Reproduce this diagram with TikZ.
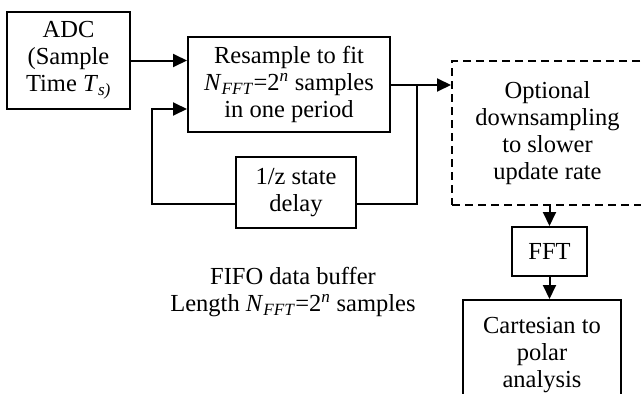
\documentclass[tikz,border=0pt]{standalone}
\usepackage{fontspec}
\setmainfont{Liberation Serif}
\usetikzlibrary{arrows.meta}
\newcommand{\NFFT}{\textit{N}\textsubscript{\textit{FFT}}=2\textsuperscript{\textit{n}}}
\begin{document}
\begin{tikzpicture}[x=1pt,y=-1pt,
  every node/.style={font=\fontsize{24.5}{27}\selectfont, align=center, inner sep=0pt},
  blk/.style={draw, line width=2pt},
  dblk/.style={draw, line width=2pt, dash pattern=on 8pt off 5pt},
  conn/.style={line width=2pt},
  arr/.style={conn, -{Triangle[length=14pt,width=13pt]}}]
\clip (0,0) rectangle (641,394);
\fill[white] (0,0) rectangle (641,394);
\node[blk, minimum width=123pt, minimum height=97pt] (adc) at (68.5,60.5) {ADC\\(Sample\\Time \textit{T}\textsubscript{\textit{s)}}};
\node[blk, minimum width=202pt, minimum height=95pt] (res) at (289,84.5) {Resample to fit\\\NFFT{} samples\\in one period};
\node[blk, minimum width=120pt, minimum height=71pt] (del) at (296,192.5) {1/z state\\delay};
\node[dblk, minimum width=191pt, minimum height=144pt] (opt) at (547.5,133) {Optional\\downsampling\\to slower\\update rate};
\node[blk, minimum width=75pt, minimum height=49pt] (fft) at (549.5,251.5) {FFT};
\node[blk, minimum width=158pt, minimum height=110pt] (car) at (542,355) {Cartesian to\\polar\\analysis};
\node (fifo) at (293,292.5) {FIFO data buffer\\Length \NFFT{} samples};
% connectors
\draw[arr] (adc.east) -- (res.west |- adc.east);
\coordinate (fbR) at (417,204);
\coordinate (fbL) at (152,204);
\coordinate (fbU) at (152,109);
\coordinate (j) at (417,85);
\draw[arr] (res.east |- j) -- (opt.west |- j);
\draw[conn] (j) -- (fbR) -- (del.east |- fbR);
\draw[arr] (del.west |- fbL) -- (fbL) -- (fbU) -- (res.west |- fbU);
\draw[arr] (opt.south -| fft) -- (fft.north);
\draw[arr] (fft.south) -- (car.north -| fft);
\end{tikzpicture}
\end{document}
